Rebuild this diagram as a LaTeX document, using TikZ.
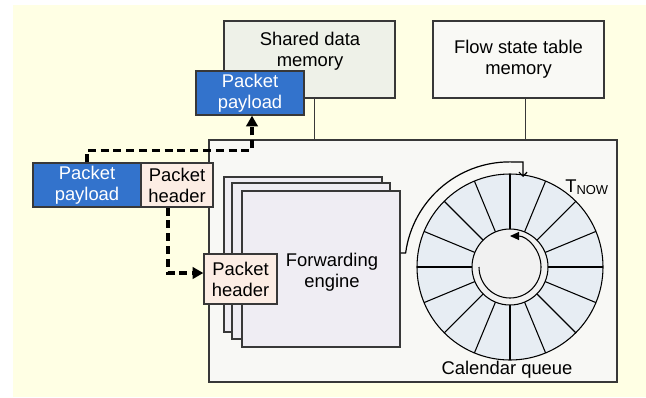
\documentclass[tikz,border=0pt]{standalone}
\usepackage{fontspec}
\setmainfont{Liberation Sans}
\usetikzlibrary{arrows.meta}

% one drawing unit is 0.75pt throughout

\definecolor{cream}{HTML}{FFFFE4}
\definecolor{edge}{HTML}{383838}
\definecolor{sharedfill}{HTML}{EEF1E8}
\definecolor{panel}{HTML}{F8F8F5}
\definecolor{flowfill}{HTML}{F9F9F5}
\definecolor{payblue}{HTML}{3373CC}
\definecolor{hdrfill}{HTML}{FCEDE4}
\definecolor{engfill}{HTML}{EFEDF3}
\definecolor{ringfill}{HTML}{E7EDF3}
\definecolor{hubfill}{HTML}{F1F1F1}

\tikzset{
  lbl/.style={font=\fontsize{13.8pt}{15.8pt}\selectfont, align=center, inner sep=0pt},
  box/.style={draw=edge, line width=0.95pt, inner sep=0pt, rectangle},
  wire/.style={draw=edge, line width=0.75pt},
  flow/.style={line width=2.3pt, dash pattern=on 6pt off 3.6pt,
    -{Triangle[length=8pt,width=8.5pt]}},
  ringline/.style={line width=0.8pt, draw=black},
}

\begin{document}
\begin{tikzpicture}[x=0.75pt, y=-0.75pt]
% canvas and background
\useasboundingbox (0,0) rectangle (646,397);
\fill[white] (0,0) rectangle (646,397);
\fill[cream] (13,5) rectangle (646,397);

% main processing panel
\node[box, fill=panel, minimum width=306pt, minimum height=181.5pt] (main) at (413,261) {};

% memories
\node[box, fill=sharedfill, minimum width=128.25pt, minimum height=57.75pt] (sdm) at (309.5,59.5) {};
\node[lbl] (sdmtext) at (310,51) {Shared data\\memory};
\node[box, fill=flowfill, minimum width=128.25pt, minimum height=57.75pt, lbl] (fst) at (518.5,59.5) {Flow state table\\memory};

\draw[wire] ([xshift=4.1pt]sdm.south) -- ([xshift=4.1pt]sdm.south |- main.north);
\draw[wire] ([xshift=4.9pt]fst.south) -- ([xshift=4.9pt]fst.south |- main.north);

% stored payload
\node[box, fill=payblue, minimum width=81pt, minimum height=33pt, lbl, text=white] (tpay) at (250,93) {Packet\\payload};

% forwarding engine stack
\node[box, fill=engfill, minimum width=118.5pt, minimum height=116.25pt] (fe3) at (303,254.5) {};
\node[box, fill=engfill, minimum width=118.5pt, minimum height=117pt] (fe2) at (311,261) {};
\node[box, fill=engfill, minimum width=118.5pt, minimum height=117pt] (fe) at (321,269) {};
\node[lbl] (fetext) at (332,272) {Forwarding\\engine};

% incoming packet
\node[box, fill=payblue, minimum width=81pt, minimum height=33pt, lbl, text=white] (lpay) at (87,185) {Packet\\payload};
\node[box, fill=hdrfill, minimum width=54pt, minimum height=33pt, lbl] (lhdr) at (177,185) {Packet\\header};

% header inside the engine
\node[box, fill=hdrfill, minimum width=54.75pt, minimum height=37.5pt, lbl] (shdr) at (240.5,279) {Packet\\header};

% packet split
\draw[flow] (lpay.north) -- ++(0,-12) -| ([xshift=1.5pt]tpay.south);
\draw[flow] ([xshift=-6.75pt]lhdr.south) |- ([yshift=4.5pt]shdr.west);

% calendar queue
\coordinate (cq) at (510,267);
\begin{scope}[shift={(cq)}, yscale=-1]
  \fill[ringfill] (0,0) circle[radius=93];
  \foreach \a in {0,22.5,...,337.5}
    \draw[ringline] (\a:38) -- (\a:93);
  \draw[ringline] (0,0) circle[radius=93];
  \draw[ringline, fill=hubfill] (0,0) circle[radius=38];
  \draw[line width=0.8pt, -{Triangle[length=6.75pt,width=6pt]}]
    (180:31) arc[start angle=180, end angle=450, radius=31];
\end{scope}
\node[lbl] (cqtext) at (507,370) {Calendar queue};
\node[lbl, anchor=base west] (tnow) at (565,192)
  {T\raisebox{-1.5pt}{\fontsize{9.7pt}{10pt}\selectfont NOW}};

% engine to calendar slot
\draw[line width=0.9pt, -{Straight Barb[length=3pt,width=6pt]}]
  ([yshift=12pt]fe.east) -- ++(5,0)
  arc[start angle=187.6, end angle=270, radius=105] -- (523,162) -- (523,177);
\end{tikzpicture}
\end{document}
